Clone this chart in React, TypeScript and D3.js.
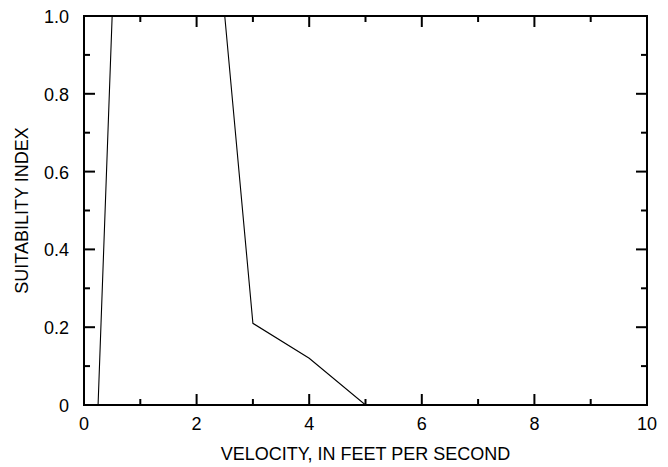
import React from "react";
import * as d3 from "d3";

const velocity = [0, 0.25, 0.5, 2.5, 3.0, 4.0, 5.0, 10.0];
const suitability = [0, 0, 1.0, 1.0, 0.21, 0.12, 0, 0];
const xMajorTicks = [0, 2, 4, 6, 8, 10];
const xMinorTicks = [1, 3, 5, 7, 9];
const yMajorTicks = [0, 0.2, 0.4, 0.6, 0.8, 1.0];
const yMinorTicks = [0.1, 0.3, 0.5, 0.7, 0.9];
const yTickLabels = ["0", "0.2", "0.4", "0.6", "0.8", "1.0"];
const xTitle = "VELOCITY, IN FEET PER SECOND";
const yTitle = "SUITABILITY INDEX";

export default function App() {
  const W = 668, H = 467;
  const left = 84, right = 647, top = 16, bottom = 405;
  const x = d3.scaleLinear().domain([0, 10]).range([left, right]);
  const y = d3.scaleLinear().domain([0, 1]).range([bottom, top]);
  const line = d3.line<number>().x((_, i) => x(velocity[i])).y((d) => y(d));
  const font = "Arial, 'Liberation Sans', sans-serif";
  const major = 11, minor = 6;
  return (
    <svg width={W} height={H} style={{ position: "absolute", left: 0, top: 0, background: "#fff" }}>
      <defs>
        <clipPath id="plot">
          <rect x={left} y={top} width={right - left} height={bottom - top} />
        </clipPath>
      </defs>
      <rect x={0} y={0} width={W} height={H} fill="#fff" />
      <path d={line(suitability) || ""} fill="none" stroke="#000" strokeWidth={1.1} clipPath="url(#plot)" />
      <g stroke="#000" strokeWidth={2}>
        {xMajorTicks.map((t) => (
          <g key={"xm" + t}>
            <line x1={x(t)} x2={x(t)} y1={bottom} y2={bottom - major} />
            <line x1={x(t)} x2={x(t)} y1={top} y2={top + major} />
          </g>
        ))}
        {xMinorTicks.map((t) => (
          <g key={"xn" + t}>
            <line x1={x(t)} x2={x(t)} y1={bottom} y2={bottom - minor} />
            <line x1={x(t)} x2={x(t)} y1={top} y2={top + minor} />
          </g>
        ))}
        {yMajorTicks.map((t) => (
          <g key={"ym" + t}>
            <line x1={left} x2={left + major} y1={y(t)} y2={y(t)} />
            <line x1={right} x2={right - major} y1={y(t)} y2={y(t)} />
          </g>
        ))}
        {yMinorTicks.map((t) => (
          <g key={"yn" + t}>
            <line x1={left} x2={left + minor} y1={y(t)} y2={y(t)} />
            <line x1={right} x2={right - minor} y1={y(t)} y2={y(t)} />
          </g>
        ))}
        <rect x={left} y={top} width={right - left} height={bottom - top} fill="none" />
      </g>
      <g fontFamily={font} fontSize={18} fill="#000">
        {xMajorTicks.map((t) => (
          <text key={"xl" + t} x={x(t)} y={bottom + 25} textAnchor="middle">{t}</text>
        ))}
        {yMajorTicks.map((t, i) => (
          <text key={"yl" + t} x={left - 15} y={y(t) + 7} textAnchor="end">{yTickLabels[i]}</text>
        ))}
        <text x={(left + right) / 2} y={460} textAnchor="middle">{xTitle}</text>
        <text transform={`translate(28,${(top + bottom) / 2}) rotate(-90)`} textAnchor="middle">{yTitle}</text>
      </g>
    </svg>
  );
}
